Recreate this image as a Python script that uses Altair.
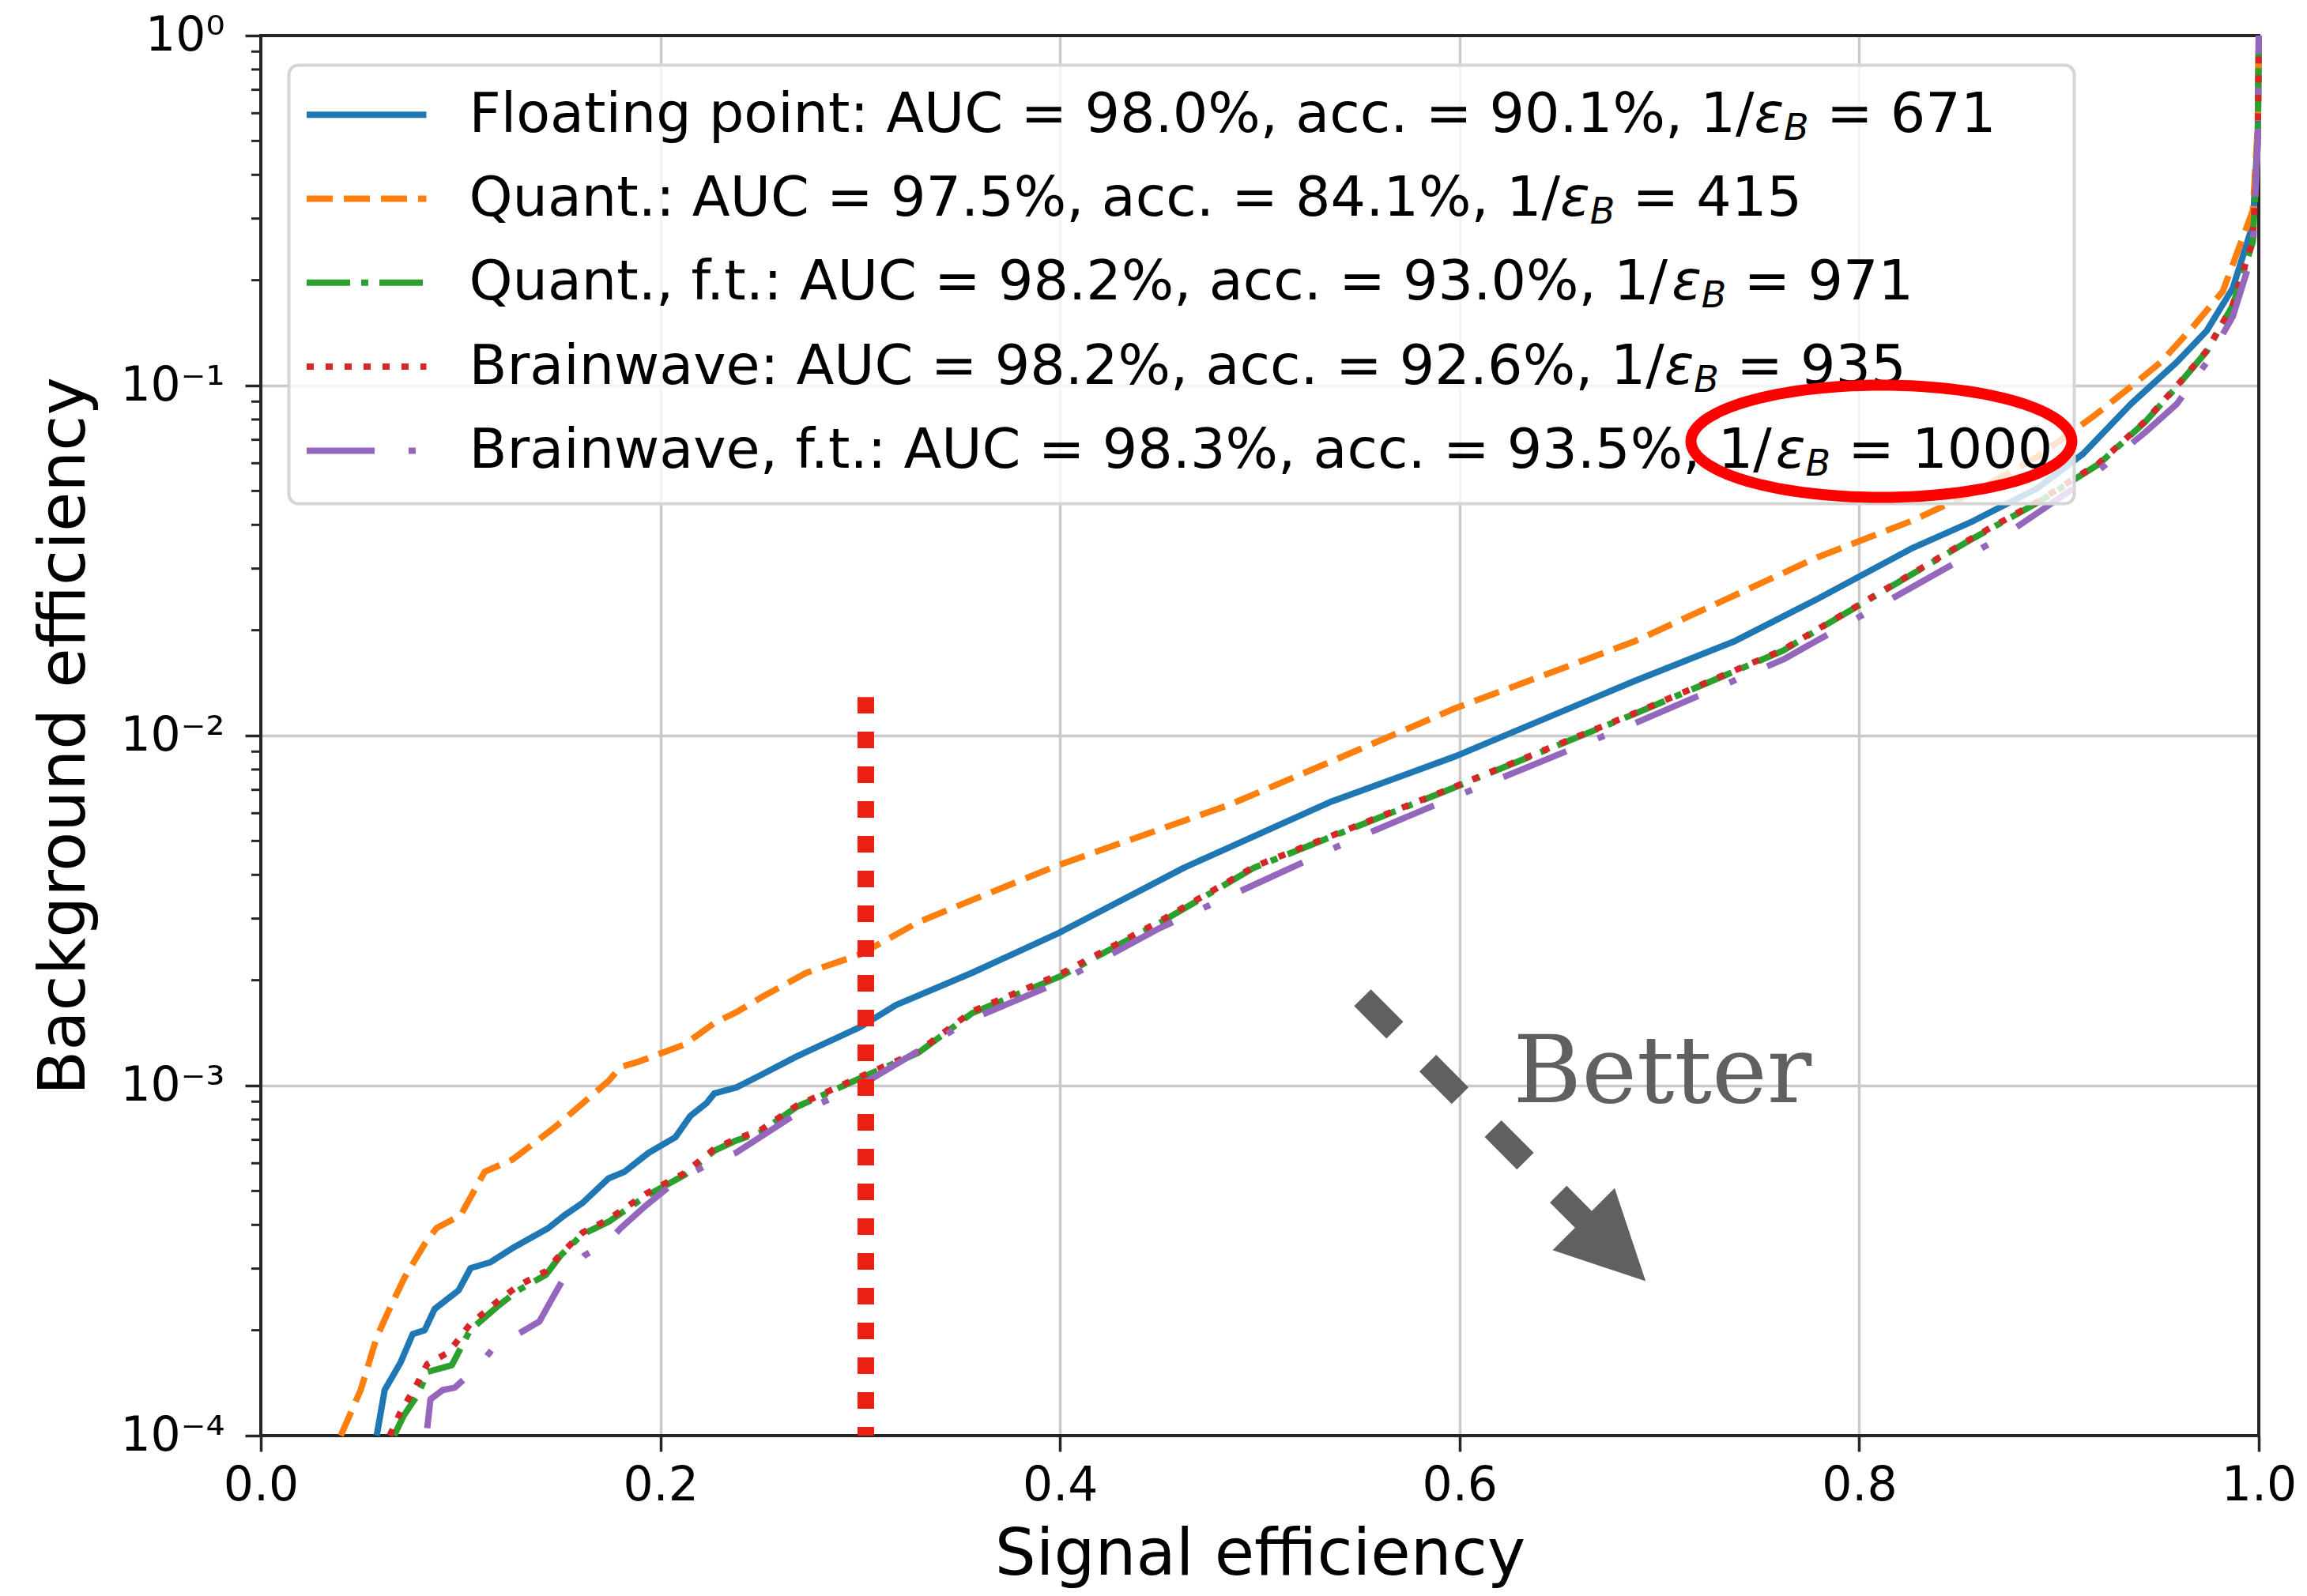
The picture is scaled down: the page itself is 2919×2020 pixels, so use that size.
import math
import altair as alt
import pandas as pd

# ---------------- data ----------------
series_names = ["Floating point", "Quant.", "Quant., f.t.", "Brainwave", "Brainwave, f.t."]
auc_vals = ["98.0%", "97.5%", "98.2%", "98.2%", "98.3%"]
acc_vals = ["90.1%", "84.1%", "93.0%", "92.6%", "93.5%"]
inv_eps_vals = ["671", "415", "971", "935", "1000"]
colors = ["#1f77b4", "#ff7f0e", "#2ca02c", "#d62728", "#9467bd"]

blue_x = [0.058, 0.062, 0.070, 0.076, 0.082, 0.087, 0.099, 0.105, 0.115, 0.127, 0.144, 0.152,
          0.161, 0.174, 0.182, 0.194, 0.2075, 0.215, 0.223, 0.227, 0.238, 0.250, 0.268, 0.300,
          0.318, 0.356, 0.400, 0.462, 0.535, 0.598, 0.687, 0.737, 0.779, 0.826, 0.857, 0.889,
          0.912, 0.936, 0.959, 0.974, 0.987, 0.997, 0.9995, 1.0]
blue_y = [1.0e-4, 1.35e-4, 1.62e-4, 1.95e-4, 2.0e-4, 2.30e-4, 2.60e-4, 3.01e-4, 3.13e-4, 3.46e-4,
          3.92e-4, 4.26e-4, 4.62e-4, 5.43e-4, 5.67e-4, 6.42e-4, 7.12e-4, 8.19e-4, 8.9e-4, 9.5e-4,
          9.88e-4, 1.07e-3, 1.21e-3, 1.47e-3, 1.70e-3, 2.10e-3, 2.74e-3, 4.19e-3, 6.45e-3, 8.73e-3,
          1.428e-2, 1.853e-2, 2.455e-2, 3.42e-2, 4.10e-2, 5.08e-2, 6.38e-2, 8.86e-2, 0.1167, 0.1436,
          0.190, 0.288, 0.52, 1.0]

orange_x = [0.040, 0.050, 0.058, 0.065, 0.072, 0.082, 0.088, 0.100, 0.112, 0.126, 0.147, 0.174,
            0.180, 0.189, 0.212, 0.227, 0.238, 0.250, 0.273, 0.300, 0.329, 0.356, 0.399, 0.485,
            0.535, 0.598, 0.687, 0.779, 0.826, 0.857, 0.889, 0.917, 0.936, 0.951, 0.967, 0.982,
            0.997, 0.9995, 1.0]
orange_y = [1.0e-4, 1.35e-4, 1.91e-4, 2.34e-4, 2.83e-4, 3.53e-4, 3.92e-4, 4.26e-4, 5.67e-4, 6.15e-4,
            7.59e-4, 1.03e-3, 1.13e-3, 1.17e-3, 1.31e-3, 1.51e-3, 1.62e-3, 1.78e-3, 2.10e-3, 2.37e-3,
            2.93e-3, 3.39e-3, 4.26e-3, 6.35e-3, 8.4e-3, 1.198e-2, 1.853e-2, 3.23e-2, 4.10e-2, 4.95e-2,
            6.25e-2, 8.15e-2, 9.93e-2, 0.1167, 0.147, 0.186, 0.316, 0.55, 1.0]

green_x = [0.0667, 0.0715, 0.079, 0.0833, 0.0956, 0.1047, 0.1185, 0.1288, 0.1427, 0.150, 0.161,
           0.174, 0.1925, 0.212, 0.227, 0.238, 0.250, 0.268, 0.300, 0.329, 0.356, 0.400, 0.450,
           0.497, 0.591, 0.687, 0.762, 0.779, 0.857, 0.889, 0.920, 0.943, 0.959, 0.974, 0.987,
           0.997, 0.9995, 1.0]
green_y = [1.0e-4, 1.14e-4, 1.32e-4, 1.52e-4, 1.59e-4, 2.0e-4, 2.34e-4, 2.60e-4, 2.88e-4, 3.27e-4,
           3.76e-4, 4.08e-4, 4.82e-4, 5.55e-4, 6.52e-4, 6.97e-4, 7.35e-4, 8.68e-4, 1.05e-3, 1.24e-3,
           1.61e-3, 2.05e-3, 2.92e-3, 4.19e-3, 6.87e-3, 1.15e-2, 1.75e-2, 2.004e-2, 3.66e-2, 4.62e-2,
           5.97e-2, 7.86e-2, 9.93e-2, 0.1254, 0.1696, 0.257, 0.50, 1.0]

red_x = [0.0645, 0.070, 0.0775, 0.0833, 0.094, 0.1047, 0.1185, 0.1288, 0.1427, 0.150, 0.161,
         0.174, 0.1925, 0.212, 0.227, 0.238, 0.250, 0.268, 0.300, 0.329, 0.356, 0.400, 0.450,
         0.497, 0.591, 0.687, 0.762, 0.779, 0.857, 0.889, 0.920, 0.943, 0.959, 0.974, 0.987,
         0.997, 0.9995, 1.0]
red_y = [1.0e-4, 1.17e-4, 1.38e-4, 1.60e-4, 1.73e-4, 2.08e-4, 2.42e-4, 2.68e-4, 2.95e-4, 3.30e-4,
         3.80e-4, 4.15e-4, 4.90e-4, 5.62e-4, 6.60e-4, 7.05e-4, 7.45e-4, 8.75e-4, 1.06e-3, 1.25e-3,
         1.63e-3, 2.08e-3, 2.95e-3, 4.22e-3, 6.90e-3, 1.155e-2, 1.76e-2, 2.01e-2, 3.68e-2, 4.65e-2,
         6.00e-2, 7.90e-2, 9.98e-2, 0.126, 0.170, 0.26, 0.50, 1.0]

purple_x = [0.0833, 0.0849, 0.0911, 0.097, 0.1095, 0.1185, 0.126, 0.1395, 0.1454, 0.1518, 0.162,
            0.1743, 0.1802, 0.1925, 0.2075, 0.2257, 0.2376, 0.268, 0.300, 0.356, 0.400, 0.450,
            0.545, 0.591, 0.687, 0.762, 0.873, 0.917, 0.943, 0.959, 0.974, 0.987, 0.997, 0.9995, 1.0]
purple_y = [1.05e-4, 1.27e-4, 1.35e-4, 1.37e-4, 1.59e-4, 1.84e-4, 1.91e-4, 2.12e-4, 2.44e-4, 2.83e-4,
            3.27e-4, 3.60e-4, 3.92e-4, 4.53e-4, 5.32e-4, 6.03e-4, 6.42e-4, 8.3e-4, 1.0e-3, 1.55e-3,
            1.98e-3, 2.82e-3, 5.0e-3, 6.45e-3, 1.08e-2, 1.65e-2, 3.74e-2, 5.55e-2, 7.34e-2, 8.86e-2,
            0.1166, 0.1576, 0.240, 0.50, 1.0]

curves_x = [blue_x, orange_x, green_x, red_x, purple_x]
curves_y = [blue_y, orange_y, green_y, red_y, purple_y]

x_ticks = [0.0, 0.2, 0.4, 0.6, 0.8, 1.0]
y_ticks = [1e-4, 1e-3, 1e-2, 1e-1, 1.0]

# annotations (data coordinates)
cut_x = 0.3028
cut_top = 0.01288
arrow_from = (0.5514, 1.783e-3)
arrow_to = (0.6647, 4.0e-4)
arrow_head = (0.6776, 3.388e-4)
better_pos = (0.6268, 8.96e-4)

# ---------------- layout / style ----------------
W, H = 2528, 1772
FONT = "DejaVu Sans"
INK = "#262626"
LW = 8
dashes = [None, [33, 14], [55, 14, 9, 14], [9, 15], [86, 43, 9, 43]]

xscale = alt.Scale(domain=[0, 1], nice=False, zero=False)
yscale = alt.Scale(type="log", domain=[1e-4, 1], nice=False)

common_axis = dict(grid=True, gridColor="#c9c9c9", gridWidth=3.5, domain=False,
                   ticks=True, tickColor=INK, tickWidth=3.5, tickSize=20,
                   labelFont=FONT, labelFontSize=60, labelColor="black",
                   labelFlush=False, labelOverlap=False,
                   titleFont=FONT, titleFontSize=82, titleFontWeight="normal",
                   titleColor="black", titleAlign="center", titleBaseline="alphabetic")

xaxis = alt.Axis(values=x_ticks, format=".1f", title="Signal efficiency",
                 labelPadding=14, titleX=W / 2, titleY=175, **common_axis)
yaxis = alt.Axis(values=y_ticks, title="Background efficiency",
                 labelExpr="datum.value > 0.5 ? '10⁰' : datum.value > 0.05 ? '10⁻¹' : "
                           "datum.value > 0.005 ? '10⁻²' : datum.value > 0.0005 ? '10⁻³' : '10⁻⁴'",
                 labelPadding=26, titleAngle=270, titleX=-224, titleY=H / 2, **common_axis)

X = lambda f: alt.X(f, scale=xscale, axis=xaxis)
Y = lambda f: alt.Y(f, scale=yscale, axis=yaxis)
one = pd.DataFrame({"d": [0]})

layers = []

# frame (spines)
layers.append(alt.Chart(one).mark_rect(filled=False, stroke=INK, strokeWidth=4).encode(
    x=alt.value(0), x2=alt.value(W), y=alt.value(0), y2=alt.value(H)))

# minor log ticks
minor = pd.DataFrame({"v": [m * 10.0 ** e for e in range(-4, 0) for m in range(2, 10)]})
layers.append(alt.Chart(minor).mark_rule(color=INK, strokeWidth=3).encode(
    y=Y("v:Q"), x=alt.value(-12), x2=alt.value(0)))

# curves
for xs, ys, col, dash in zip(curves_x, curves_y, colors, dashes):
    df = pd.DataFrame({"x": xs, "y": ys})
    kw = dict(color=col, strokeWidth=LW, strokeCap="butt", strokeJoin="round")
    if dash:
        kw["strokeDash"] = dash
    layers.append(alt.Chart(df).mark_line(**kw).encode(x=X("x:Q"), y=Y("y:Q")))

# red vertical dashed cut line
vline = pd.DataFrame({"x": [cut_x], "y": [1e-4], "y2": [cut_top]})
layers.append(alt.Chart(vline).mark_rule(color="#EC2012", strokeWidth=21, strokeDash=[21, 23],
                                         strokeCap="butt", strokeDashOffset=10).encode(
    x=X("x:Q"), y=Y("y:Q"), y2="y2:Q"))

# legend box
layers.append(alt.Chart(one).mark_rect(fill="white", fillOpacity=0.8, stroke="#d5d5d5",
                                       strokeWidth=4, cornerRadius=12).encode(
    x=alt.value(35.5), x2=alt.value(2294.5), y=alt.value(37.5), y2=alt.value(592.5)))

# DejaVu Sans advance widths (units / 2048) for placing the mathtext pieces
ADV = {' ': 651, '%': 1946, ',': 651, '.': 651, '/': 690, ':': 690, '=': 1716, 'A': 1401,
       'B': 1405, 'C': 1430, 'F': 1178, 'Q': 1612, 'U': 1499, 'a': 1255, 'c': 1126, 'e': 1260,
       'f': 721, 'g': 1300, 'i': 569, 'l': 569, 'n': 1298, 'o': 1253, 'p': 1300, 'r': 842,
       't': 803, 'u': 1298, 'v': 1212, 'w': 1675}


def text_w(s, fs):
    return sum(ADV.get(ch, 1303) for ch in s) / 2048.0 * fs


FS, FS_SUB = 70, 46
row0, row_step = 100.2, 106.3
for i, name in enumerate(series_names):
    ysym = row0 + row_step * i
    kw = dict(color=colors[i], strokeWidth=LW, strokeCap="butt")
    if dashes[i]:
        kw["strokeDash"] = dashes[i]
    layers.append(alt.Chart(one).mark_rule(**kw).encode(
        x=alt.value(58), x2=alt.value(209.5), y=alt.value(ysym)))
    base = ysym + 21.5
    t1 = f"{name}: AUC = {auc_vals[i]}, acc. = {acc_vals[i]}, 1/"
    x1 = 263.5
    x2 = x1 + text_w(t1, FS)
    x3 = x2 + 0.537 * FS
    x4 = x3 + 0.686 * FS_SUB + text_w(" ", FS)
    t4 = f"= {inv_eps_vals[i]}"
    pieces = [(t1, x1, base, FS, "normal"), ("ε", x2, base, FS, "italic"),
              ("B", x3, base + 10, FS_SUB, "italic"), (t4, x4, base, FS, "normal")]
    for txt, px, py, fs, style in pieces:
        layers.append(alt.Chart(one).mark_text(text=txt, font=FONT, fontSize=fs, fontStyle=style,
                                               color="black", align="left",
                                               baseline="alphabetic").encode(
            x=alt.value(px), y=alt.value(py)))

# red ellipse around 1/eps_B = 1000
ry = 71.0 / 241.0
pts = [(math.cos(2 * math.pi * k / 120), ry * math.sin(2 * math.pi * k / 120)) for k in range(120)]
ell_path = "M" + "L".join(f"{a:.4f},{b:.4f}" for a, b in pts) + "Z"
layers.append(alt.Chart(one).mark_point(shape=ell_path, size=(2 * 241) ** 2, filled=False,
                                        stroke="#FF0000", strokeWidth=14, opacity=1).encode(
    x=alt.value(2050.5), y=alt.value(513.5)))

# "Better" arrow
arr = pd.DataFrame({"x": [arrow_from[0]], "y": [arrow_from[1]], "x2": [arrow_to[0]], "y2": [arrow_to[1]]})
layers.append(alt.Chart(arr).mark_rule(color="#606060", strokeWidth=30, strokeDash=[58, 59],
                                       strokeCap="butt").encode(
    x=X("x:Q"), y=Y("y:Q"), x2="x2:Q", y2="y2:Q"))
head = pd.DataFrame({"x": [arrow_head[0]], "y": [arrow_head[1]]})
layers.append(alt.Chart(head).mark_point(shape="M0,-1L1,1L-1,1Z", size=111 ** 2, filled=True,
                                         fill="#606060", fillOpacity=1, strokeWidth=0,
                                         angle=135, opacity=1).encode(
    x=X("x:Q"), y=Y("y:Q")))
bt = pd.DataFrame({"x": [better_pos[0]], "y": [better_pos[1]], "t": ["Better"]})
layers.append(alt.Chart(bt).mark_text(font="DejaVu Serif", fontSize=118, color="#606060",
                                      align="left", baseline="alphabetic").encode(
    x=X("x:Q"), y=Y("y:Q"), text="t:N"))

chart = alt.layer(*layers).properties(
    width=W, height=H,
    padding={"left": 322, "top": 37, "right": 50, "bottom": 195},
    autosize=alt.AutoSizeParams(type="none"),
    background="white",
).configure_view(strokeWidth=0)

chart.save("out.html", embed_options={"renderer": "svg", "actions": False})
